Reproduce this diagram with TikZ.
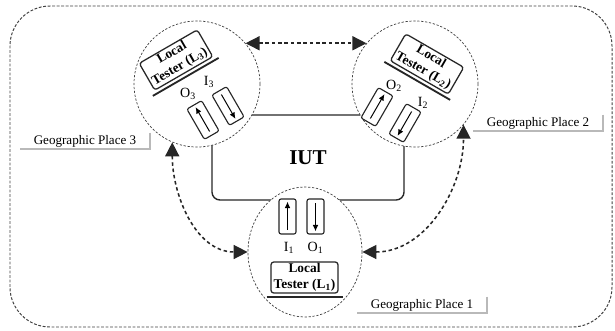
\documentclass[tikz,border=0pt]{standalone}
\usepackage{fontspec}
\setmainfont{Liberation Serif}
\usetikzlibrary{arrows.meta,shapes.geometric}

\tikzset{
  circ/.style={circle, draw=black!75, dash pattern=on 1.6pt off 1.2pt, line width=0.5pt, fill=white, minimum size=3.15cm, inner sep=0pt},
  tester/.style={draw=black!85, line width=0.9pt, rounded corners=2pt, minimum width=1.675cm, minimum height=0.775cm, inner sep=0pt, align=center, font=\fontsize{9.5}{11.3}\selectfont\bfseries},
  testerbase/.style={line width=1.3pt, black!85},
  port/.style={draw=black!85, line width=0.8pt, rounded corners=1.5pt, minimum width=0.425cm, minimum height=0.875cm, inner sep=0pt},
  portarrow/.style={-{Latex[length=1.6mm,width=1.4mm]}, line width=0.7pt, shorten <=1.2mm, shorten >=0.8mm},
  lbl/.style={font=\fontsize{10}{12}\selectfont, inner sep=0pt},
  link/.style={{Triangle[length=3.5mm,width=3.5mm]}-{Triangle[length=3.5mm,width=3.5mm]}, line width=1.1pt, dash pattern=on 2.5pt off 2pt, black!85},
  place/.style={font=\fontsize{9.3}{11}\selectfont, minimum width=3.25cm, minimum height=0.4cm, inner sep=0pt},
  placeshade/.style={gray!55, line width=1.2pt}
}

\begin{document}
\begin{tikzpicture}[x=0.025cm, y=0.025cm]
  \useasboundingbox (0,0) rectangle (615,330);
  % outer frame
  \draw[black!75, line width=0.7pt, dash pattern=on 2pt off 1.2pt, rounded corners=1cm] (10,3) rectangle (612,324);

  % implementation under test
  \node[draw=black!85, line width=1pt, rounded corners=0.2cm, minimum width=4.8cm, minimum height=2.125cm, font=\fontsize{15}{18}\selectfont\bfseries] (iut) at (308,172.5) {IUT};

  % the three places
  \node[circ] (c3) at (197,246) {};
  \node[circ] (c2) at (415,246) {};
  \node[circ, ellipse, minimum width=2.85cm, minimum height=3.25cm] (c1) at (305,78) {};

  % local testers
  \node[tester, rotate=30] (t3) at (176,270) {Local\\Tester (L\textsubscript{3})};
  \node[tester, rotate=-30] (t2) at (427,266) {Local\\Tester (L\textsubscript{2})};
  \node[tester] (t1) at (304.5,52.5) {Local\\Tester (L\textsubscript{1})};
  \foreach \t/\a in {t1/0, t2/-30, t3/30}
    \draw[testerbase, shift={(\t.center)}, rotate=\a] (-38,-19.5) -- (38,-19.5);

  % ports
  \node[port, rotate=30] (po3) at (203,210) {};
  \node[port, rotate=30] (pi3) at (228,224) {};
  \node[port, rotate=-30] (po2) at (377,223) {};
  \node[port, rotate=-30] (pi2) at (405,207) {};
  \node[port] (pi1) at (287.5,113.5) {};
  \node[port] (po1) at (315.5,113.5) {};
  \foreach \p in {po3,po2,pi1}
    \draw[portarrow] (\p.south) -- (\p.north);
  \foreach \p in {pi3,pi2,po1}
    \draw[portarrow] (\p.north) -- (\p.south);

  \node[lbl] (li1) at (289,82) {I\textsubscript{1}};
  \node[lbl] (lo1) at (315.5,82) {O\textsubscript{1}};
  \node[lbl] (lo3) at (188,236) {O\textsubscript{3}};
  \node[lbl] (li3) at (209,248) {I\textsubscript{3}};
  \node[lbl] (lo2) at (394,244) {O\textsubscript{2}};
  \node[lbl] (li2) at (423,227) {I\textsubscript{2}};

  % links between testers
  \draw[link] (c3.40) -- (c2.140);
  \draw[link] (c3.-113) to[out=-90,in=180] (c1.west);
  \draw[link] (c1.east) to[out=0,in=-90] (c2.-40);

  % place labels
  \node[place] (g3) at (85,189) {Geographic Place 3};
  \node[place] (g2) at (538,207) {Geographic Place 2};
  \node[place] (g1) at (422,25) {Geographic Place 1};
  \foreach \g in {g1,g2,g3}
    \draw[placeshade] (\g.north east) -- (\g.south east) -- (\g.south west);
\end{tikzpicture}
\end{document}
